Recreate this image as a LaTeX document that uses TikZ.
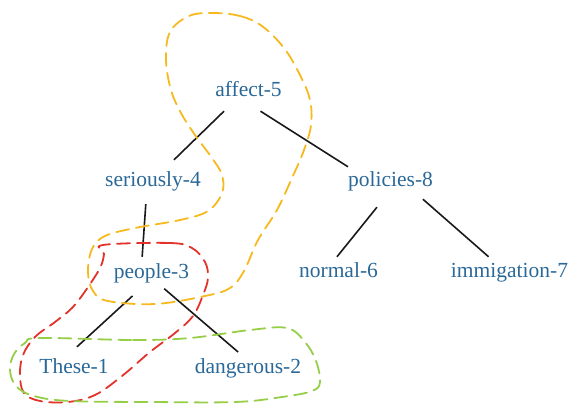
\documentclass[tikz,border=0pt]{standalone}
\usepackage{fontspec}
\setmainfont{Liberation Serif}
\usepackage{tikz}
\definecolor{wordblue}{RGB}{42,104,152}
\definecolor{chunkyellow}{RGB}{246,186,32}
\definecolor{chunkred}{RGB}{226,50,42}
\definecolor{chunkgreen}{RGB}{150,206,72}

\begin{document}
\begin{tikzpicture}[
  x=1pt, y=-1pt,
  word/.style={anchor=base, text=wordblue, font=\fontsize{21.5}{24}\selectfont,
    inner xsep=0pt, inner ysep=10pt, text height=16pt, text depth=5pt},
  dep/.style={line width=1.6pt, black!90},
  chunk/.style={line width=1.8pt, dash pattern=on 13pt off 7pt, line cap=round}
]
  \useasboundingbox (0,0) rectangle (572,404);
  % words
  \node[word] (affect) at (248.5,96) {affect-5};
  \node[word] (seriously) at (153,186) {seriously-4};
  \node[word] (policies) at (390.5,186) {policies-8};
  \node[word] (people) at (151.5,278) {people-3};
  \node[word] (normal) at (338.5,277) {normal-6};
  \node[word] (immigation) at (509.5,277) {immigation-7};
  \node[word] (these) at (74,373) {These-1};
  \node[word] (dangerous) at (248,373) {dangerous-2};
  % dependencies
  \draw[dep] ([xshift=-24.5pt]affect.south) -- ([xshift=21pt]seriously.north);
  \draw[dep, shorten >=-13pt] ([xshift=12pt]affect.south) -- ([xshift=-53.5pt]policies.north);
  \draw[dep, shorten >=-5pt, shorten <=3pt] ([xshift=-7pt]seriously.south) -- ([xshift=-9pt]people.north);
  \draw[dep, shorten <=4pt] ([xshift=-16pt]people.south) -- ([xshift=3pt]these.north);
  \draw[dep, shorten <=-7pt, shorten >=-8pt] ([xshift=18pt]people.south) -- ([xshift=-16pt]dangerous.north);
  \draw[dep, shorten <=7.7pt, shorten >=-7.7pt] ([xshift=-8.7pt]policies.south) -- ([xshift=3.3pt]normal.north);
  \draw[dep, shorten <=-3pt, shorten >=-9pt] ([xshift=34.7pt]policies.south) -- ([xshift=-27.7pt]immigation.north);
  % chunks
  \draw[chunk, chunkyellow] plot[smooth cycle, tension=0.6] coordinates {
    (213,13) (240,16) (262,26) (284,48) (300,75) (310,100) (311,125) (304,150)
    (292,178) (277,210) (258,240) (244,271) (230,288) (205,296) (155,304)
    (108,301) (93,291) (88,272) (92,249) (105,236) (135,228) (180,220)
    (208,211) (222,193) (222,175) (212,158) (195,135) (181,113) (171,90)
    (166,60) (170,32) (189,16)};
  \draw[chunk, chunkred] plot[smooth cycle, tension=0.6] coordinates {
    (103,245) (170,243) (192,248) (205,262) (208,278) (203,295) (193,316)
    (175,333) (150,352) (122,376) (95,395) (68,402) (40,401) (24,393)
    (20,375) (23,355) (35,337) (55,322) (72,308) (86,290) (100,268) (104,254)};
  \draw[chunk, chunkgreen] plot[smooth cycle, tension=0.6] coordinates {
    (40,338) (133,340) (190,338) (250,330) (287,328) (305,342) (316,361)
    (320,382) (312,391) (282,397) (235,402) (150,402) (70,401) (34,396)
    (16,386) (10,370) (14,354) (25,343)};
\end{tikzpicture}
\end{document}
